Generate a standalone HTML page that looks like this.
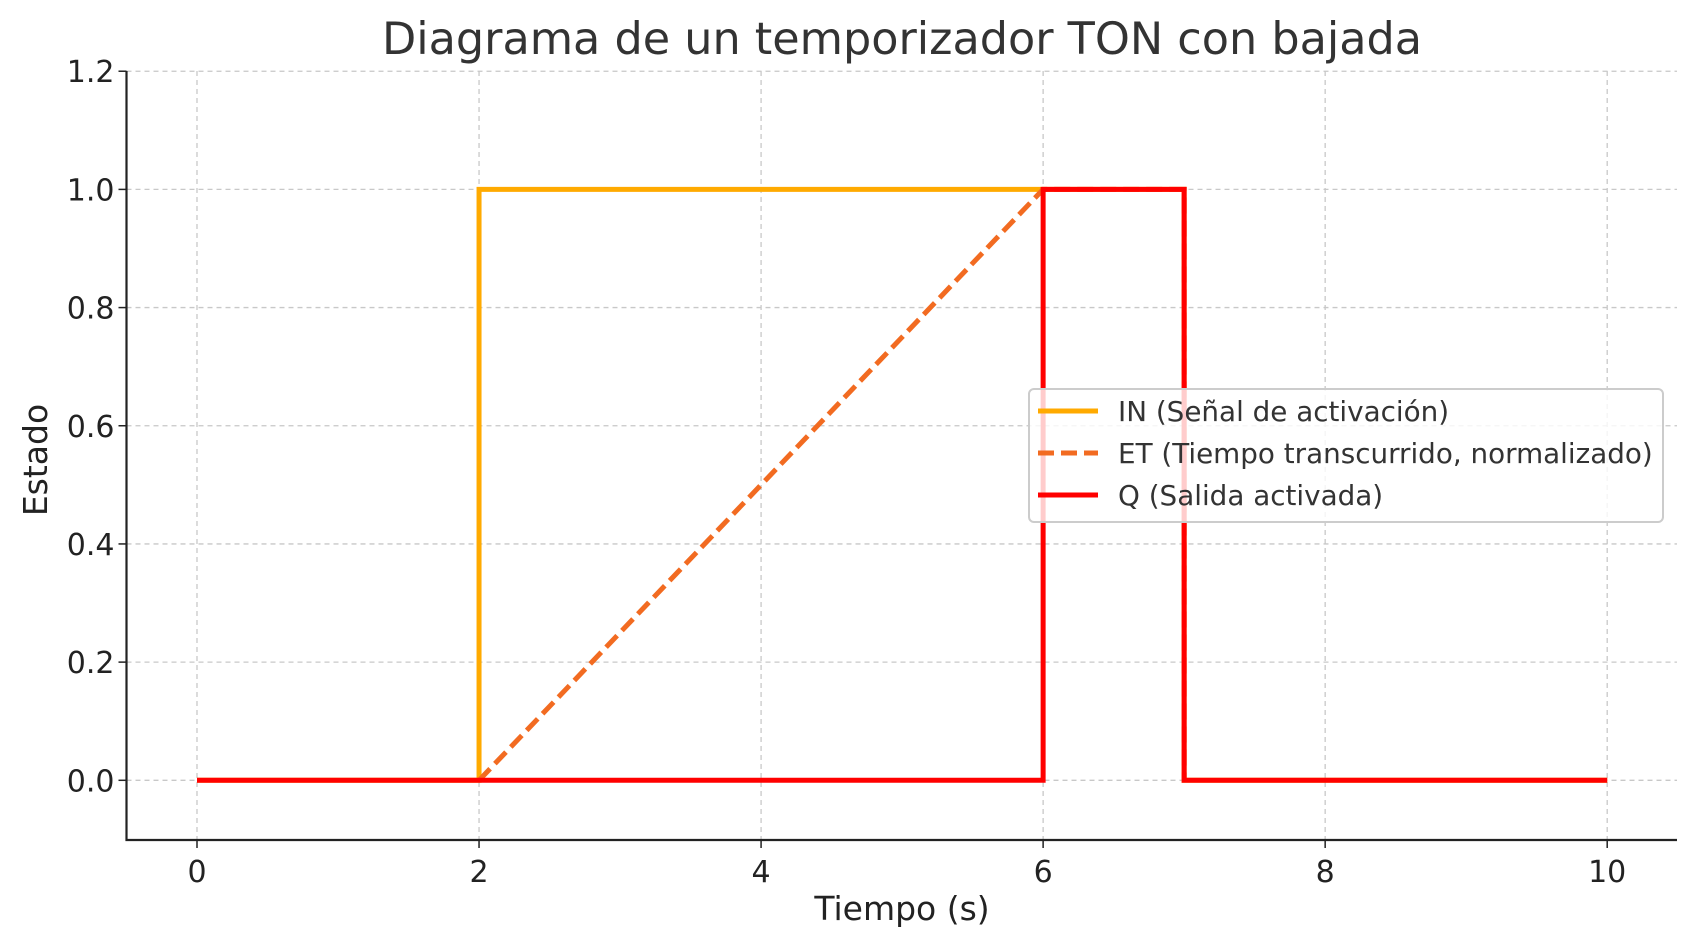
<!DOCTYPE html>
<html><head><meta charset="utf-8"><style>
body{margin:0;background:#fff}
svg{display:block;font-family:"DejaVu Sans","Liberation Sans",sans-serif}
</style></head><body>
<svg id="chart" width="1697" height="947" viewBox="0 0 1697 947">
<text x="902" y="54" font-size="44.5" fill="#333" text-anchor="middle">Diagrama de un temporizador TON con bajada</text>
<g id="grid"></g>
<g id="series"></g>
<g id="axes"></g>
<text x="902" y="920" font-size="33" fill="#222" text-anchor="middle">Tiempo (s)</text>
<text transform="translate(47,460) rotate(-90)" font-size="33" fill="#222" text-anchor="middle">Estado</text>
<g>
<rect x="1029" y="389" width="634" height="133" rx="5" fill="rgba(255,255,255,0.8)" stroke="#ccc" stroke-width="2"/>
<line x1="1038" y1="411" x2="1098" y2="411" stroke="#ffaa00" stroke-width="5"/>
<text x="1118" y="421" font-size="27.8" fill="#333">IN (Señal de activación)</text>
<line x1="1038" y1="453" x2="1098" y2="453" stroke="#f26b21" stroke-width="5" stroke-dasharray="16,7"/>
<text x="1118" y="463" font-size="27.8" fill="#333">ET (Tiempo transcurrido, normalizado)</text>
<line x1="1038" y1="495" x2="1098" y2="495" stroke="#ff0000" stroke-width="5"/>
<text x="1118" y="505" font-size="27.8" fill="#333">Q (Salida activada)</text>
</g>
</svg>
<script>
const xTicks=[0,2,4,6,8,10];
const yTicks=[0.0,0.2,0.4,0.6,0.8,1.0,1.2];
const inTime=[0,2,2,7,7,10];
const inValue=[0,0,1,1,0,0];
const etTime=[2,6,7,7];
const etValue=[0,1,1,0];
const qTime=[0,6,6,7,7,10];
const qValue=[0,0,1,1,0,0];
const L=126.5,R=1677,T=71,B=840;
const X=v=>197+(v-0)*(1607.2-197)/10;
const Y=v=>780.3-v*(780.3-189.4);
const NS='http://www.w3.org/2000/svg';
function mk(tag,attrs,parent){const e=document.createElementNS(NS,tag);for(const k in attrs)e.setAttribute(k,attrs[k]);parent.appendChild(e);return e;}
const grid=document.getElementById('grid'),axes=document.getElementById('axes'),series=document.getElementById('series');
xTicks.forEach(t=>{
 const g=mk('line',{x1:X(t),x2:X(t),y1:T,y2:B,stroke:'#c8c8c8','stroke-width':1.3,'stroke-dasharray':'5,4'},grid);
 
 const k=mk('line',{x1:X(t),x2:X(t),y1:B,y2:B+8,stroke:'#222','stroke-width':1.5},axes);
 
 const l=mk('text',{x:X(t),y:B+42,'font-size':30,fill:'#222','text-anchor':'middle'},axes);l.textContent=t;
 
});
yTicks.forEach(t=>{
 const g=mk('line',{x1:L,x2:R,y1:Y(t),y2:Y(t),stroke:'#c8c8c8','stroke-width':1.3,'stroke-dasharray':'5,4'},grid);
 
 const k=mk('line',{x1:L-8,x2:L,y1:Y(t),y2:Y(t),stroke:'#222','stroke-width':1.5},axes);
 
 const l=mk('text',{x:L-12,y:Y(t)+11,'font-size':30,fill:'#222','text-anchor':'end'},axes);l.textContent=t.toFixed(1);
 
});
const sp=mk('path',{d:`M${L},${T}V${B}H${R}`,fill:'none',stroke:'#222','stroke-width':2.2},axes);

function line(ts,vs,color,dash,name){
 const d=ts.map((t,i)=>(i?'L':'M')+X(t)+','+Y(vs[i])).join('');
 const p=mk('path',{d,fill:'none',stroke:color,'stroke-width':5},series);
 if(dash)p.setAttribute('stroke-dasharray',dash);
 
}
line(inTime,inValue,'#ffaa00',null,'in-line');
line(etTime,etValue,'#f26b21','16,7','et-line');
line(qTime,qValue,'#ff0000',null,'q-line');
</script>
</body></html>
